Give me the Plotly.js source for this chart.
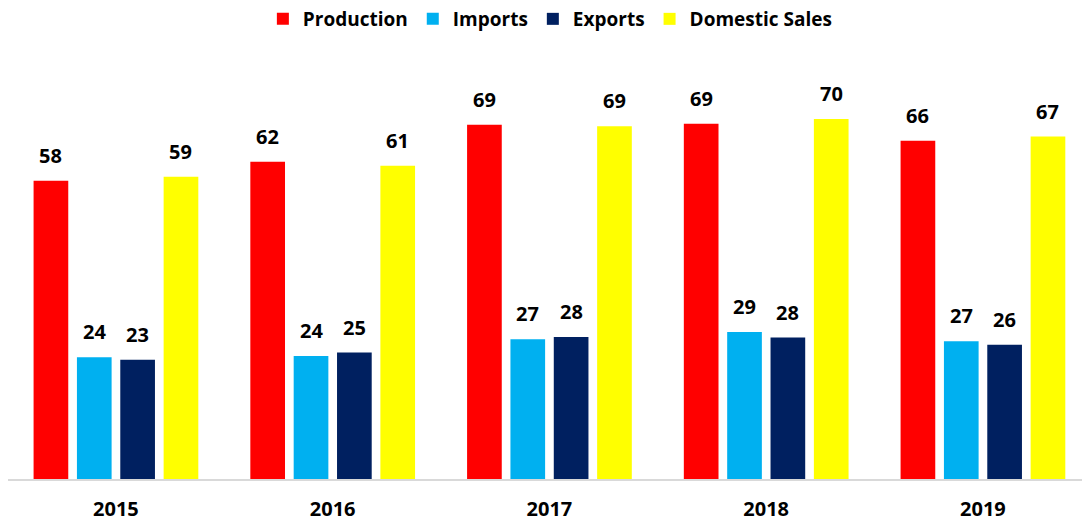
<!DOCTYPE html>
<html>
<head>
<meta charset="utf-8">
<script src="https://cdn.plot.ly/plotly-3.0.1.min.js"></script>
<style>html,body{margin:0;padding:0;background:#fff}#chart{width:1082px;height:522px}</style>
</head>
<body>
<div id="chart"></div>
<script>
const years = ["2015", "2016", "2017", "2018", "2019"];
const production = [58.0, 61.7, 68.9, 69.1, 65.8];
const imports = [23.7, 23.9, 27.2, 28.6, 26.8];
const exports_ = [23.2, 24.6, 27.6, 27.5, 26.1];
const domesticSales = [58.8, 60.9, 68.6, 70.0, 66.6];

const seriesNames = ["Production", "Imports", "Exports", "Domestic Sales"];
const seriesValues = [production, imports, exports_, domesticSales];
const colors = ["#FF0000", "#00B0F0", "#002060", "#FFFF00"];

const FONT = "'Open Sans', Lato, sans-serif";

const traces = seriesNames.map((name, k) => ({
  type: "bar",
  name: "<b>" + name + "</b>",
  x: years.map((_, i) => i),
  y: seriesValues[k],
  marker: { color: colors[k] },
  hoverinfo: "none"
}));

const bargap = 0.2;
const nSeries = seriesNames.length;
const slot = (1 - bargap) / nSeries;
const annotations = [];
seriesValues.forEach((vals, k) => {
  vals.forEach((v, i) => {
    annotations.push({
      x: i + (k - (nSeries - 1) / 2) * slot,
      y: v,
      xref: "x", yref: "y",
      text: "<b>" + Math.round(v) + "</b>",
      showarrow: false,
      yanchor: "bottom",
      yshift: 10,
      font: { family: FONT, size: 20, color: "#000" }
    });
  });
});

const layout = {
  width: 1082, height: 522,
  margin: { l: 8, r: 0, t: 45, b: 43 },
  paper_bgcolor: "#fff", plot_bgcolor: "#fff",
  barmode: "group",
  bargap: bargap,
  bargroupgap: 0.2,
  font: { family: FONT, color: "#000" },
  showlegend: true,
  legend: {
    orientation: "h",
    x: 0.505, xanchor: "center",
    y: 1.0, yref: "container", yanchor: "top",
    font: { family: FONT, size: 19, color: "#000" },
    itemwidth: 30,
    traceorder: "normal"
  },
  xaxis: {
    range: [-0.498, 4.457],
    tickmode: "array",
    tickvals: years.map((_, i) => i),
    ticktext: years.map(y => "<b>" + y + "</b>"),
    tickfont: { family: FONT, size: 20, color: "#000" },
    showline: true, linecolor: "#D9D9D9", linewidth: 2,
    showgrid: false, zeroline: false, ticks: "",
    ticklabelstandoff: 11,
    fixedrange: true
  },
  yaxis: {
    range: [0, 84.4],
    visible: false,
    showgrid: false, zeroline: false,
    fixedrange: true
  },
  annotations: annotations
};

Plotly.newPlot("chart", traces, layout, { displayModeBar: false, staticPlot: true });
</script>
</body>
</html>
